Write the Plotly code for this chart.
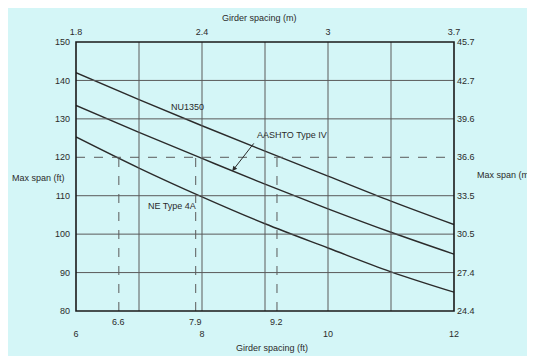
import plotly.graph_objects as go

# ---- data ----
x_ft = [6, 7, 8, 9, 10, 11, 12]
nu1350 = [142.0, 135.0, 128.2, 121.6, 115.1, 108.6, 102.5]
aashto_iv = [133.5, 126.5, 119.7, 113.0, 106.6, 100.5, 94.8]
ne_4a = [125.3, 117.2, 109.7, 102.7, 96.4, 90.2, 84.9]

ft_ticks = [6, 8, 10, 12]
m_tick_text = ["1.8", "2.4", "3", "3.7"]
ft_minor_ticks = [6.68, 7.9, 9.19]
ft_minor_text = ["6.6", "7.9", "9.2"]
span_ft_ticks = [80, 90, 100, 110, 120, 130, 140, 150]
span_m_text = ["24.4", "27.4", "30.5", "33.5", "36.6", "39.6", "42.7", "45.7"]

x_grid = [7, 8, 9, 10, 11]
y_grid_solid = [90, 100, 110, 130, 140]
y_grid_dashed = [120]
dashed_v_bottom, dashed_v_top = 80, 120

# page is offset by the 8px body margin; figure fills the rest of the window
OFF = 8
W, H = 535 - OFF, 356 - OFF
L, R, T, B = 76 - OFF, 81, 42 - OFF, 45
PW, PH = W - L - R, H - T - B


def px(x):  # page pixel -> paper x
    return (x - OFF - L) / PW


def py(y):  # page pixel -> paper y
    return (H - B - (y - OFF)) / PH


BG = "#d4f6f7"
INK = "#2b2b2b"
GRID = "#5a5a5a"
FONT = "Liberation Sans, Arial, sans-serif"

fig = go.Figure()

for name, ys in [("NU1350", nu1350), ("AASHTO Type IV", aashto_iv), ("NE Type 4A", ne_4a)]:
    fig.add_trace(go.Scatter(x=x_ft, y=ys, mode="lines", name=name,
                             line=dict(color=INK, width=1.4, shape="spline", smoothing=1.0),
                             showlegend=False, hoverinfo="skip"))

# invisible trace to activate the secondary axes
fig.add_trace(go.Scatter(x=[ft_ticks[0], ft_ticks[-1]], y=[span_ft_ticks[0], span_ft_ticks[-1]],
                         xaxis="x2", yaxis="y2", mode="lines",
                         line=dict(width=0, color="rgba(0,0,0,0)"),
                         showlegend=False, hoverinfo="skip"))

shapes = []
for xv in x_grid:
    shapes.append(dict(type="line", xref="x", yref="paper", x0=xv, x1=xv, y0=0, y1=1,
                       line=dict(color=GRID, width=1)))
for yv in y_grid_solid:
    shapes.append(dict(type="line", xref="paper", yref="y", x0=0, x1=1, y0=yv, y1=yv,
                       line=dict(color=GRID, width=1)))
for yv in y_grid_dashed:
    shapes.append(dict(type="line", xref="paper", yref="y", x0=0, x1=1, y0=yv, y1=yv,
                       line=dict(color=GRID, width=1, dash="dash")))
for xv in ft_minor_ticks:
    shapes.append(dict(type="line", xref="x", yref="y", x0=xv, x1=xv,
                       y0=dashed_v_bottom, y1=dashed_v_top,
                       line=dict(color=GRID, width=1, dash="dash")))
# frame
shapes.append(dict(type="rect", xref="paper", yref="paper", x0=0, x1=1, y0=0, y1=1,
                   line=dict(color="#1a1a1a", width=1.6)))

annotations = []
for xv, t in zip(ft_minor_ticks, ft_minor_text):
    annotations.append(dict(x=xv, y=py(322), xref="x", yref="paper", text=t, showarrow=False,
                            font=dict(size=9, color=INK), xanchor="center", yanchor="middle"))

annotations += [
    dict(x=px(259), y=py(18), xref="paper", yref="paper", text="Girder spacing (m)",
         showarrow=False, font=dict(size=9, color=INK), xanchor="center", yanchor="middle"),
    dict(x=px(272), y=py(348), xref="paper", yref="paper", text="Girder spacing (ft)",
         showarrow=False, font=dict(size=9, color=INK), xanchor="center", yanchor="middle"),
    dict(x=px(38), y=py(177.5), xref="paper", yref="paper", text="Max span (ft)",
         showarrow=False, font=dict(size=9, color=INK), xanchor="center", yanchor="middle"),
    dict(x=px(534), y=py(175), xref="paper", yref="paper", text="Max span (m)",
         showarrow=False, font=dict(size=9, color=INK), xanchor="right", yanchor="middle"),
    dict(x=7.77, y=133.1, xref="x", yref="y", text="NU1350", showarrow=False,
         font=dict(size=9, color=INK)),
    dict(x=9.43, y=125.8, xref="x", yref="y", text="AASHTO Type IV", showarrow=False,
         font=dict(size=9, color=INK)),
    dict(x=7.52, y=107.3, xref="x", yref="y", text="NE Type 4A", showarrow=False,
         font=dict(size=9, color=INK)),
    dict(x=8.48, y=116.4, xref="x", yref="y", ax=8.84, ay=124.0, axref="x", ayref="y",
         text="", showarrow=True, arrowhead=2, arrowsize=1, arrowwidth=1, arrowcolor=INK),
]

tickfont = dict(size=9, color=INK, family=FONT)
fig.update_layout(
    width=W, height=H,
    margin=dict(l=L, r=R, t=T, b=B, pad=0),
    paper_bgcolor=BG, plot_bgcolor=BG,
    font=dict(family=FONT, size=9, color=INK),
    shapes=shapes, annotations=annotations,
    xaxis=dict(range=[6, 12], tickvals=ft_ticks, ticktext=[str(v) for v in ft_ticks],
               showgrid=False, zeroline=False, showline=False, ticks="",
               tickfont=tickfont, ticklabelstandoff=16),
    xaxis2=dict(range=[6, 12], overlaying="x", side="top", tickvals=ft_ticks,
                ticktext=m_tick_text, showgrid=False, zeroline=False, showline=False,
                ticks="", tickfont=tickfont, ticklabelstandoff=4),
    yaxis=dict(range=[80, 150], tickvals=span_ft_ticks, ticktext=[str(v) for v in span_ft_ticks],
               showgrid=False, zeroline=False, showline=False, ticks="",
               tickfont=tickfont, ticklabelstandoff=5),
    yaxis2=dict(range=[80, 150], overlaying="y", side="right", tickvals=span_ft_ticks,
                ticktext=span_m_text, showgrid=False, zeroline=False, showline=False,
                ticks="", tickfont=tickfont, ticklabelstandoff=2),
)

fig.write_html("out.html")
